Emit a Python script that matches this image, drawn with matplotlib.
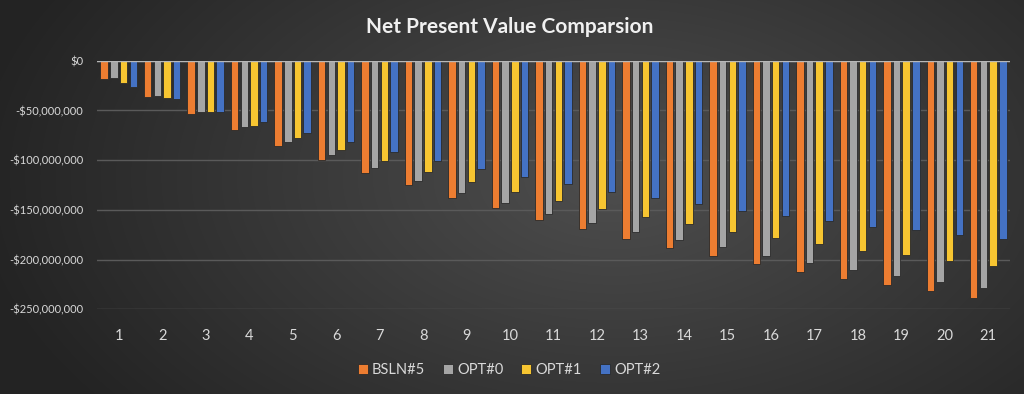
import numpy as np
import matplotlib
matplotlib.use("Agg")
import matplotlib.pyplot as plt
from matplotlib.ticker import FuncFormatter
from matplotlib import font_manager

categories = [str(i) for i in range(1, 22)]
series_names = ["BSLN#5", "OPT#0", "OPT#1", "OPT#2"]
bsln5 = [-18.7, -36.8, -53.6, -69.7, -85.5, -99.9, -113.0, -125.0, -137.8, -147.8, -160.2,
         -169.6, -179.3, -188.0, -196.4, -204.8, -212.2, -219.5, -225.6, -231.6, -238.3]
opt0 = [-17.1, -35.2, -51.3, -66.4, -81.5, -94.8, -108.0, -120.7, -132.7, -143.4, -154.2,
        -163.5, -172.0, -180.3, -187.7, -196.4, -203.7, -210.5, -216.5, -222.8, -228.3]
opt1 = [-22.1, -37.8, -51.9, -65.4, -78.0, -89.8, -100.8, -112.2, -122.3, -131.7, -140.8,
        -149.1, -157.5, -164.2, -172.0, -178.0, -184.3, -191.1, -195.4, -201.4, -206.2]
opt2 = [-26.1, -38.5, -51.3, -61.3, -72.4, -81.4, -91.5, -100.6, -108.9, -117.3, -124.3,
        -131.7, -138.4, -144.4, -150.8, -156.2, -161.2, -166.9, -170.2, -175.3, -179.6]
series = [bsln5, opt0, opt1, opt2]
colors = ["#ED7D31", "#A5A5A5", "#F7C531", "#4472C4"]
yticks = [0, -50e6, -100e6, -150e6, -200e6, -250e6]

plt.rcParams['font.family'] = ['Lato', 'DejaVu Sans']

names = {f.name for f in font_manager.fontManager.ttflist}
narrow = 'Liberation Sans Narrow' if 'Liberation Sans Narrow' in names else None

fig = plt.figure(figsize=(10.24, 3.94), dpi=100)

# background gradient
bg = fig.add_axes([0, 0, 1, 1], zorder=-10)
h, w = 394, 1024
yy, xx = np.mgrid[0:h, 0:w]
cx, cy = 0.60 * w, 0.45 * h
d = np.sqrt(((xx - cx) / (0.62 * w)) ** 2 + ((yy - cy) / (0.95 * h)) ** 2)
d = np.clip(d, 0, 1)
c_in = np.array([0x4e, 0x4e, 0x4e]) / 255.0
c_out = np.array([0x24, 0x24, 0x24]) / 255.0
img = c_in[None, None, :] * (1 - d[..., None]) + c_out[None, None, :] * d[..., None]
bg.imshow(img, aspect='auto', extent=[0, 1, 0, 1])
bg.axis('off')

ax = fig.add_axes([97 / 1024, (394 - 309.3) / 394, (1010 - 97) / 1024, 248.6 / 394])
ax.set_facecolor('none')

x = np.arange(len(categories))
pitch = 0.223
width = 0.172
for i, (name, vals, col) in enumerate(zip(series_names, series, colors)):
    ax.bar(x + (i - 1.5) * pitch, np.array(vals) * 1e6, width=width, color=col,
           edgecolor='#2a2a2a', linewidth=0.6, label=name, zorder=3)

ax.set_xlim(-0.5, len(categories) - 0.5)
ax.set_ylim(-250e6, 0)
ax.set_yticks(yticks)
ax.yaxis.set_major_formatter(FuncFormatter(
    lambda v, p: "$0" if v == 0 else ("-$" if v < 0 else "$") + f"{abs(v):,.0f}"))
ax.set_xticks(x)
ax.set_xticklabels(categories)
ax.grid(axis='y', color='#5a5a5a', linewidth=1.0, zorder=0)
ax.axhline(0, color='#b8b8b8', linewidth=1.0, zorder=4)
for s in ax.spines.values():
    s.set_visible(False)
ax.tick_params(axis='both', length=0, colors='#d9d9d9')
ax.tick_params(axis='y', pad=10)
ax.tick_params(axis='x', pad=14, labelsize=10.5)
for lab in ax.get_yticklabels():
    if narrow:
        lab.set_family([narrow, 'DejaVu Sans'])
        lab.set_fontsize(10.5)
    else:
        lab.set_fontsize(8)

fig.text(0.498, 0.932, "Net Present Value Comparsion", ha='center', va='center',
         color='#f0f0f0', fontsize=15, fontweight='bold')

leg = fig.legend(loc='center', bbox_to_anchor=(0.497, 0.06), ncol=4, frameon=False,
                 fontsize=10.5, handlelength=0.7, handleheight=0.7, handletextpad=0.3,
                 columnspacing=1.2, labelcolor='#d9d9d9')

fig.savefig("out.png", dpi=100)
